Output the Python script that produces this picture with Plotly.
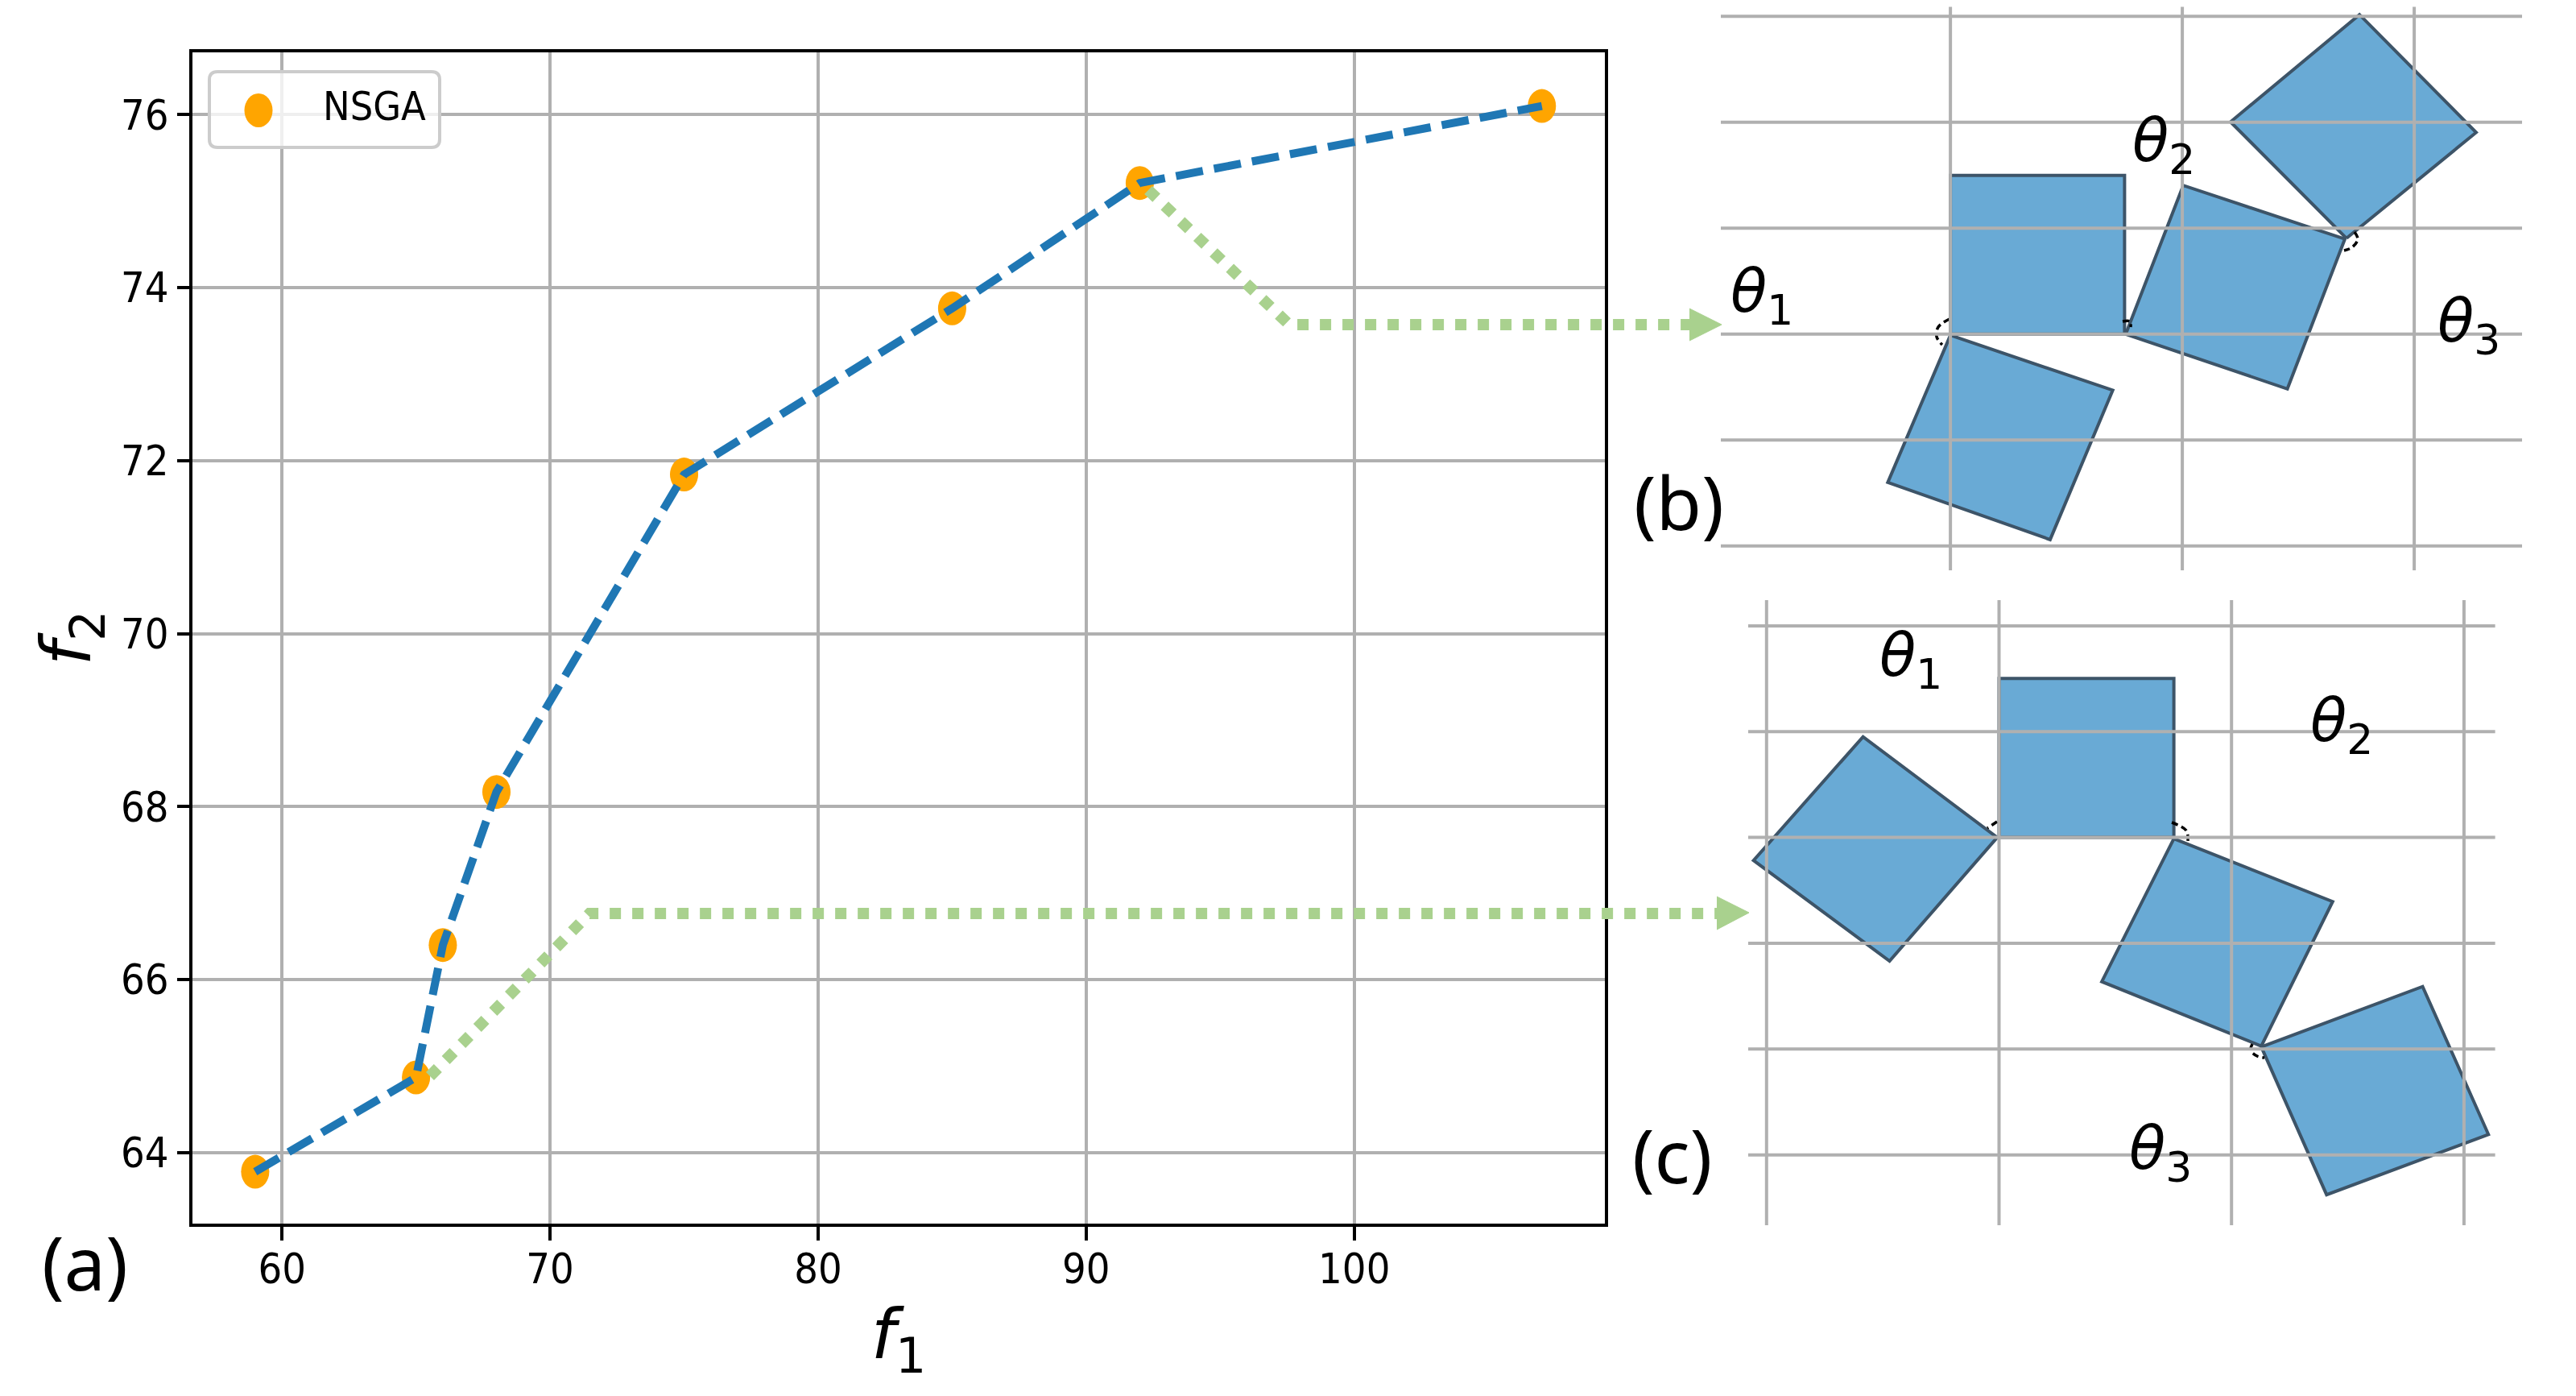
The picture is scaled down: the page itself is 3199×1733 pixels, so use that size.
import plotly.graph_objects as go

# page is 3199x1733, the html body keeps an 8px margin round the figure
OFF = 8
W, H = 3199 - 2 * OFF, 1733 - 2 * OFF

# (a) pareto front
f1 = [59, 65, 66, 68, 75, 85, 92, 107]
f2 = [63.78, 64.87, 66.4, 68.17, 71.84, 73.76, 75.21, 76.1]
f1_ticks = [60, 70, 80, 90, 100]
f2_ticks = [64, 66, 68, 70, 72, 74, 76]

# (b) arm shape, one list per link
b_links_x = [[0, 0.751, 0.751, 0], [0, 0.70, 0.43, -0.27],
             [0.756, 1.004, 1.701, 1.453], [1.708, 2.267, 1.764, 1.208]]
b_links_y = [[0, 0, 1.498, 1.498], [-0.01, -0.53, -1.94, -1.40],
             [0, 1.404, 0.898, -0.517], [0.905, 1.904, 3.017, 2.004]]
b_grid_x = [0, 1, 2]
b_grid_y = [-2, -1, 0, 1, 2, 3]

# (c) arm shape
c_links_x = [[0, 0.752, 0.752, 0], [-0.008, -0.585, -1.056, -0.471],
             [0.752, 1.435, 1.128, 0.442], [1.128, 1.822, 2.105, 1.409]]
c_links_y = [[0, 0, 1.502, 1.502], [0, 0.951, -0.217, -1.168],
             [-0.012, -0.606, -1.972, -1.363], [-1.98, -1.409, -2.807, -3.377]]
c_grid_x = [-1, 0, 1, 2]
c_grid_y = [-3, -2, -1, 0, 1, 2]

# small dashed joint arcs, page pixels
arcs_x = [[2421, 2407, 2405, 2412], [2636, 2645, 2646], [2924, 2928, 2921, 2911],
          [2480, 2468], [2697, 2715, 2717], [2797, 2795, 2803, 2812]]
arcs_y = [[396, 406, 418, 428], [399, 399, 406], [288, 297, 307, 311],
          [1020, 1028], [1021, 1031, 1044], [1296, 1304, 1311, 1313]]

GRID = "#b0b0b0"
BLUE = "#1f77b4"
FILL = "#69aad5"
EDGE = "#3d5468"
GREEN = "#a9d18e"
ORANGE = "#ffa500"
TICK_FONT = "Liberation Sans Narrow, DejaVu Sans Condensed, DejaVu Sans"
TEXT_FONT = "DejaVu Sans"


def dom_x(a, b):
    return [(a - OFF) / W, (b - OFF) / W]


def dom_y(top, bottom):
    return [1 - (bottom - OFF) / H, 1 - (top - OFF) / H]


# the source picture was stretched, its round markers came out taller than wide
def add_marker(x, y, xref, yref):
    fig.add_shape(type="circle", xref=xref, yref=yref, layer="between",
                  xsizemode="pixel", ysizemode="pixel", xanchor=x, yanchor=y,
                  x0=-17.5, x1=17.5, y0=-21, y1=21,
                  fillcolor=ORANGE, line=dict(width=0))


fig = go.Figure()

fig.add_trace(go.Scatter(x=f1, y=f2, mode="markers", name="NSGA", xaxis="x", yaxis="y",
                         marker=dict(color=ORANGE, size=34)))
fig.add_trace(go.Scatter(x=f1, y=f2, mode="lines", xaxis="x", yaxis="y",
                         line=dict(color=BLUE, width=10, dash="34px,14px")))
for a, b in zip(f1, f2):
    add_marker(a, b, "x", "y")

for xs, ys in zip(b_links_x, b_links_y):
    fig.add_trace(go.Scatter(x=xs + xs[:1], y=ys + ys[:1], mode="lines", fill="toself", fillcolor=FILL,
                             line=dict(color=EDGE, width=4), xaxis="x2", yaxis="y2"))
for xs, ys in zip(c_links_x, c_links_y):
    fig.add_trace(go.Scatter(x=xs + xs[:1], y=ys + ys[:1], mode="lines", fill="toself", fillcolor=FILL,
                             line=dict(color=EDGE, width=4), xaxis="x3", yaxis="y3"))

# overlay in page pixels, for arrows and labels that cross the panels
for xs, ys in zip(arcs_x, arcs_y):
    fig.add_trace(go.Scatter(x=xs, y=ys, mode="lines", xaxis="x4", yaxis="y4",
                             line=dict(color="black", width=3.5, dash="8px,5px", shape="spline")))

# green pointers
fig.add_trace(go.Scatter(x=[1426, 1601, 2100], y=[236, 403, 403], mode="lines", xaxis="x4", yaxis="y4",
                         line=dict(color=GREEN, width=14, dash="dot")))
fig.add_trace(go.Scatter(x=[534, 732, 2133], y=[1336, 1134, 1134], mode="lines", xaxis="x4", yaxis="y4",
                         line=dict(color=GREEN, width=14, dash="dot")))
fig.add_trace(go.Scatter(x=[2098, 2138, 2098], y=[383, 403, 423], mode="lines", fill="toself",
                         fillcolor=GREEN, line=dict(color=GREEN, width=1), xaxis="x4", yaxis="y4"))
fig.add_trace(go.Scatter(x=[2132, 2172, 2132], y=[1113, 1133, 1154], mode="lines", fill="toself",
                         fillcolor=GREEN, line=dict(color=GREEN, width=1), xaxis="x4", yaxis="y4"))

# legend drawn by hand, plotly caps the legend marker size
fig.add_trace(go.Scatter(x=[321], y=[137], mode="markers", xaxis="x4", yaxis="y4",
                         marker=dict(color=ORANGE, size=34)))
fig.add_shape(type="path", xref="x4", yref="y4", layer="below",
              path="M 270,89 L 536,89 Q 546,89 546,99 L 546,173 Q 546,183 536,183 "
                   "L 270,183 Q 260,183 260,173 L 260,99 Q 260,89 270,89 Z",
              fillcolor="rgba(255,255,255,0.8)", line=dict(color="#cccccc", width=4))
add_marker(321, 137, "x4", "y4")

# grid sits on top of the blue links in (b) and (c)
for ax_x, ax_y, gx, gy in [("x2", "y2", b_grid_x, b_grid_y), ("x3", "y3", c_grid_x, c_grid_y)]:
    for t in gx:
        fig.add_shape(type="line", xref=ax_x, yref=ax_y + " domain", x0=t, x1=t, y0=0, y1=1,
                      layer="above", line=dict(color=GRID, width=4))
    for t in gy:
        fig.add_shape(type="line", xref=ax_x + " domain", yref=ax_y, x0=0, x1=1, y0=t, y1=t,
                      layer="above", line=dict(color=GRID, width=4))

labels = [
    ("(a)", 105, 1566, 92, "Noto Sans"),
    ("(b)", 2085, 622, 92, "Noto Sans"),
    ("(c)", 2076, 1433, 92, "Noto Sans"),
    ("<i>θ</i><sub>1</sub>", 2188, 366, 74, TEXT_FONT),
    ("<i>θ</i><sub>2</sub>", 2687, 179, 74, TEXT_FONT),
    ("<i>θ</i><sub>3</sub>", 3066, 403, 74, TEXT_FONT),
    ("<i>θ</i><sub>1</sub>", 2373, 818, 74, TEXT_FONT),
    ("<i>θ</i><sub>2</sub>", 2908, 899, 74, TEXT_FONT),
    ("<i>θ</i><sub>3</sub>", 2683, 1430, 74, TEXT_FONT),
    ("NSGA", 465, 132, 50, TICK_FONT),
]
for text, x, y, size, family in labels:
    fig.add_annotation(text=text, x=x, y=y, xref="x4", yref="y4", showarrow=False,
                       font=dict(size=size, family=family, color="black"))

hidden = dict(visible=False, showgrid=False, zeroline=False)
fig.update_layout(
    width=W, height=H, margin=dict(l=0, r=0, t=0, b=0, pad=0),
    paper_bgcolor="white", plot_bgcolor="rgba(0,0,0,0)", showlegend=False,
    xaxis=dict(domain=dom_x(239, 1993), range=[56.66, 109.35], tickvals=f1_ticks,
               showline=True, mirror=True, linecolor="black", linewidth=4, ticks="outside",
               ticklen=17, tickwidth=4, tickcolor="black", showgrid=True, gridcolor=GRID,
               gridwidth=4, zeroline=False, ticklabelstandoff=-9,
               tickfont=dict(size=52, family=TICK_FONT, color="black"),
               title=dict(text="<i>f</i><sub>1</sub>", font=dict(size=86, family=TEXT_FONT, color="black"),
                          standoff=22)),
    yaxis=dict(domain=dom_y(65, 1519), range=[63.18, 76.72], tickvals=f2_ticks,
               showline=True, mirror=True, linecolor="black", linewidth=4, ticks="outside",
               ticklen=15, tickwidth=4, tickcolor="black", showgrid=True, gridcolor=GRID,
               gridwidth=4, zeroline=False,
               tickfont=dict(size=52, family=TICK_FONT, color="black"),
               title=dict(text="<i>f</i><sub>2</sub>", font=dict(size=86, family=TEXT_FONT, color="black"),
                          standoff=10)),
    xaxis2=dict(domain=dom_x(2137, 3132), range=[-0.99, 2.465], **hidden),
    yaxis2=dict(domain=dom_y(8.5, 708), range=[-2.23, 3.09], **hidden),
    xaxis3=dict(domain=dom_x(2171, 3098.6), range=[-1.079, 2.134], **hidden),
    yaxis3=dict(domain=dom_y(745, 1521), range=[-3.665, 2.243], **hidden),
    xaxis4=dict(domain=[0, 1], range=[OFF, OFF + W], **hidden),
    yaxis4=dict(domain=[0, 1], range=[OFF + H, OFF], **hidden),
)

fig.write_html("out.html")
